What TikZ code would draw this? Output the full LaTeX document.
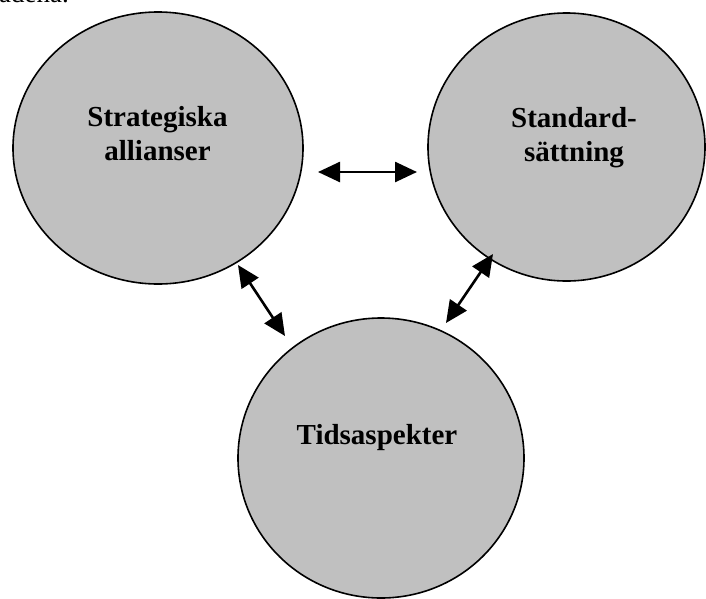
\documentclass[tikz,border=0pt]{standalone}
\usepackage{fontspec}
\setmainfont{Liberation Serif}
\usetikzlibrary{shapes.geometric,arrows.meta}
\tikzset{
  bubble/.style={ellipse,draw=black,line width=1.6pt,fill=circgray,inner sep=0pt},
  lbl/.style={font=\fontsize{29}{34}\selectfont\bfseries,align=center,inner sep=0pt},
  dblarrow/.style={line width=2.6pt,{Triangle[length=22pt,width=20pt]}-{Triangle[length=22pt,width=20pt]}}
}
\definecolor{circgray}{HTML}{C0C0C0}
\begin{document}
\begin{tikzpicture}[x=1pt,y=-1pt]
\useasboundingbox (0,0) rectangle (706,598);
\node[anchor=base west,inner sep=0pt,font=\fontsize{27}{30}\selectfont] (top) at (-1,2.5) {adena.};
\node[bubble,minimum width=290pt,minimum height=272pt] (L) at (158,148) {};
\node[bubble,minimum width=277pt,minimum height=268pt] (R) at (566.5,147) {};
\node[bubble,minimum width=286pt,minimum height=280pt] (B) at (381,458) {};
\node[lbl] (Lt) at (157.5,133.2) {Strategiska\\allianser};
\node[lbl] (Rt) at (574,138) {Standard-\\sättning};
\node[lbl,anchor=base] (Bt) at (377,444) {Tidsaspekter};
\coordinate (h1) at (318,172);
\coordinate (h2) at (417,172);
\coordinate (l1) at (238,265);
\coordinate (l2) at (285,336);
\coordinate (r1) at (493,254);
\coordinate (r2) at (446,323);
\draw[dblarrow] (h1) -- (h2);
\draw[dblarrow] (l1) -- (l2);
\draw[dblarrow] (r1) -- (r2);
\end{tikzpicture}
\end{document}
